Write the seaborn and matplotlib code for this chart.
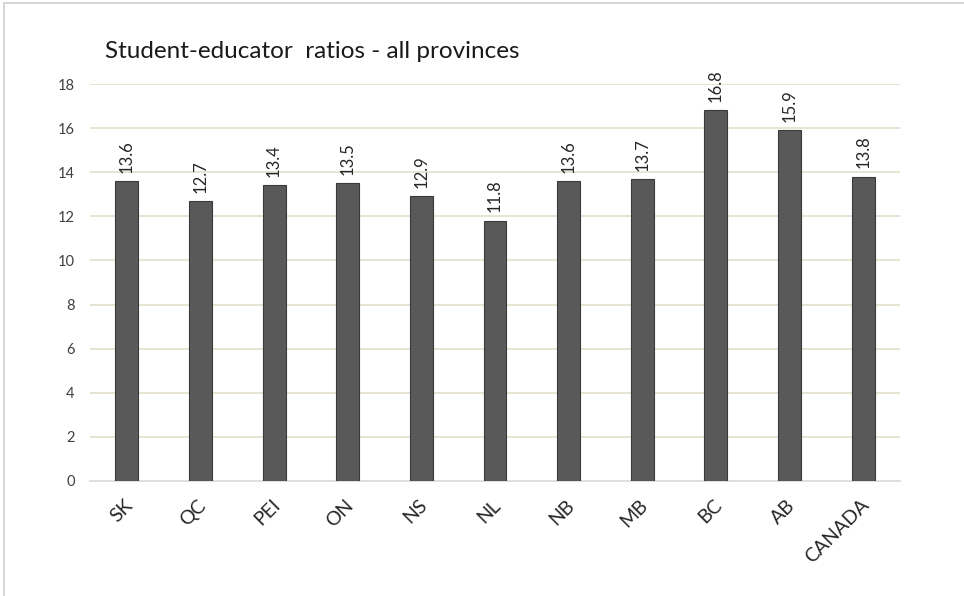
import matplotlib
matplotlib.use("Agg")
import matplotlib.pyplot as plt
import matplotlib.transforms as mtransforms
import seaborn as sns
import pandas as pd
from matplotlib.lines import Line2D

provinces = ["SK", "QC", "PEI", "ON", "NS", "NL", "NB", "MB", "BC", "AB", "CANADA"]
ratios = [13.6, 12.7, 13.4, 13.5, 12.9, 11.8, 13.6, 13.7, 16.8, 15.9, 13.8]
y_ticks = [0, 2, 4, 6, 8, 10, 12, 14, 16, 18]
title = "Student-educator  ratios - all provinces"

sns.set_theme(style="white")
plt.rcParams["font.family"] = ["Lato", "DejaVu Sans"]

df = pd.DataFrame({"province": provinces, "ratio": ratios})

fig = plt.figure(figsize=(9.64, 5.96), dpi=100)
ax = fig.add_axes([90 / 964, 1 - 481 / 596, 810 / 964, 397 / 596])

sns.barplot(data=df, x="province", y="ratio", color="#595959", width=0.31,
            edgecolor="#3a3a3a", linewidth=0.8, saturation=1, ax=ax, zorder=3)

ax.set_ylim(0, 18)
ax.set_yticks(y_ticks)
ax.set_yticklabels([str(t) for t in y_ticks], fontsize=10.5, color="#404040")
ax.set_xlim(-0.5, len(provinces) - 0.5)
ax.set_xticks(range(len(provinces)))
ax.set_xticklabels(provinces, rotation=45, fontsize=14, color="#262626",
                   ha="right", va="center", rotation_mode="anchor")
ax.tick_params(axis="x", length=0, pad=15.5)
ax.tick_params(axis="y", length=0, pad=11)
ax.set_xlabel("")
ax.set_ylabel("")

# nudge the slanted category labels so they end just right of each bar
shift = mtransforms.ScaledTranslation(3 / 100, 0, fig.dpi_scale_trans)
for lbl in ax.get_xticklabels():
    lbl.set_transform(lbl.get_transform() + shift)

for t in y_ticks[1:]:
    ax.axhline(t, color="#E3DFCB", linewidth=1.2, zorder=1)

for s in ["top", "right", "left"]:
    ax.spines[s].set_visible(False)
ax.spines["bottom"].set_color("#D9D9D9")
ax.spines["bottom"].set_linewidth(1.2)

for bar, v in zip(ax.patches, ratios):
    ax.annotate(f"{v:.1f}", (bar.get_x() + bar.get_width() / 2, bar.get_height()),
                xytext=(0, 6), textcoords="offset points", rotation=90,
                ha="center", va="bottom", fontsize=12, color="#262626")

fig.text(105 / 964, 1 - 52 / 596, title, fontsize=17.5, color="#1a1a1a",
         ha="left", va="center")

# thin frame along the top and left edges of the figure
fig.add_artist(Line2D([4 / 964, 4 / 964], [0, 1 - 3 / 596], transform=fig.transFigure,
                      color="#D0D0D0", linewidth=1.2))
fig.add_artist(Line2D([4 / 964, 1], [1 - 3 / 596, 1 - 3 / 596], transform=fig.transFigure,
                      color="#D0D0D0", linewidth=1.2))

fig.savefig("out.png", dpi=100, facecolor="white")
